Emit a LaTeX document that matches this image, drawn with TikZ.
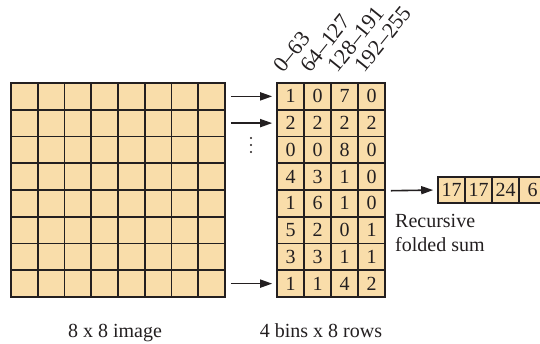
\documentclass[tikz,border=0pt]{standalone}
\usepackage{fontspec}
\setmainfont{Liberation Serif}[Ligatures=TeX]
\newfontfamily\figfont{Liberation Serif}[Ligatures=TeX]
\usetikzlibrary{arrows.meta, positioning, calc}
\definecolor{CellFill}{RGB}{249, 221, 170}
\definecolor{InkGray}{RGB}{35, 31, 32}

\begin{document}
\begin{tikzpicture}[x=1pt,y=-1pt,
    cell/.style={draw=InkGray,fill=CellFill,line width=1.6pt,minimum width=26.75pt,minimum height=26.75pt,inner sep=0pt,text=InkGray,font=\figfont\fontsize{20}{20}\selectfont},
    bincell/.style={cell,minimum width=27pt},
    sumcell/.style={cell,minimum width=27pt,minimum height=26pt},
    feed/.style={draw=InkGray,line width=1.6pt,-{Triangle[length=12pt,width=8pt]},shorten <=5pt,shorten >=4pt},
    caption/.style={text=InkGray,font=\figfont\fontsize{20}{24}\selectfont}]
  \useasboundingbox (0,0) rectangle (540,344);
  % 8 x 8 image
  \foreach \r in {1,...,8}
    \foreach \c in {1,...,8}
      \node[cell] (img-\r-\c) at ({11+(\c-0.5)*26.75},{83+(\r-0.5)*26.75}) {};
  % histogram bins
  \foreach \r/\vals in {1/{1,0,7,0},2/{2,2,2,2},3/{0,0,8,0},4/{4,3,1,0},5/{1,6,1,0},6/{5,2,0,1},7/{3,3,1,1},8/{1,1,4,2}}
    \foreach \v [count=\c] in \vals
      \node[bincell] (bin-\r-\c) at ({277+(\c-0.5)*27},{83+(\r-0.5)*26.75}) {\v};
  % bin ranges
  \foreach \lbl [count=\c] in {0--63,64--127,128--191,192--255}
    \node[caption,font=\figfont\fontsize{22}{22}\selectfont,rotate=51,anchor=south west,inner sep=0pt] (range-\c) at ({277+(\c-0.5)*27-7},74) {\lbl};
  % folded sum
  \foreach \v [count=\c] in {17,17,24,6}
    \node[sumcell] (sum-\c) at ({438+(\c-0.5)*27},190) {\v};
  \node[caption,anchor=north west,align=left,inner sep=0pt] (foldtxt) at (395,214) {Recursive\\folded sum};
  % arrows
  \draw[feed] (img-1-8) -- (bin-1-1);
  \draw[feed] (img-2-8) -- (bin-2-1);
  \draw[feed] (img-8-8) -- (bin-8-1);
  \draw[feed] (bin-4-4.south east) -- (sum-1.west);
  \foreach \y in {138,145,152}
    \fill[InkGray] (251,\y) circle (1.1pt);
  % captions
  \node[caption,anchor=base] (imgtxt) at (115,337) {8 x 8 image};
  \node[caption,anchor=base] (bintxt) at (321,337) {4 bins x 8 rows};
\end{tikzpicture}
\end{document}
